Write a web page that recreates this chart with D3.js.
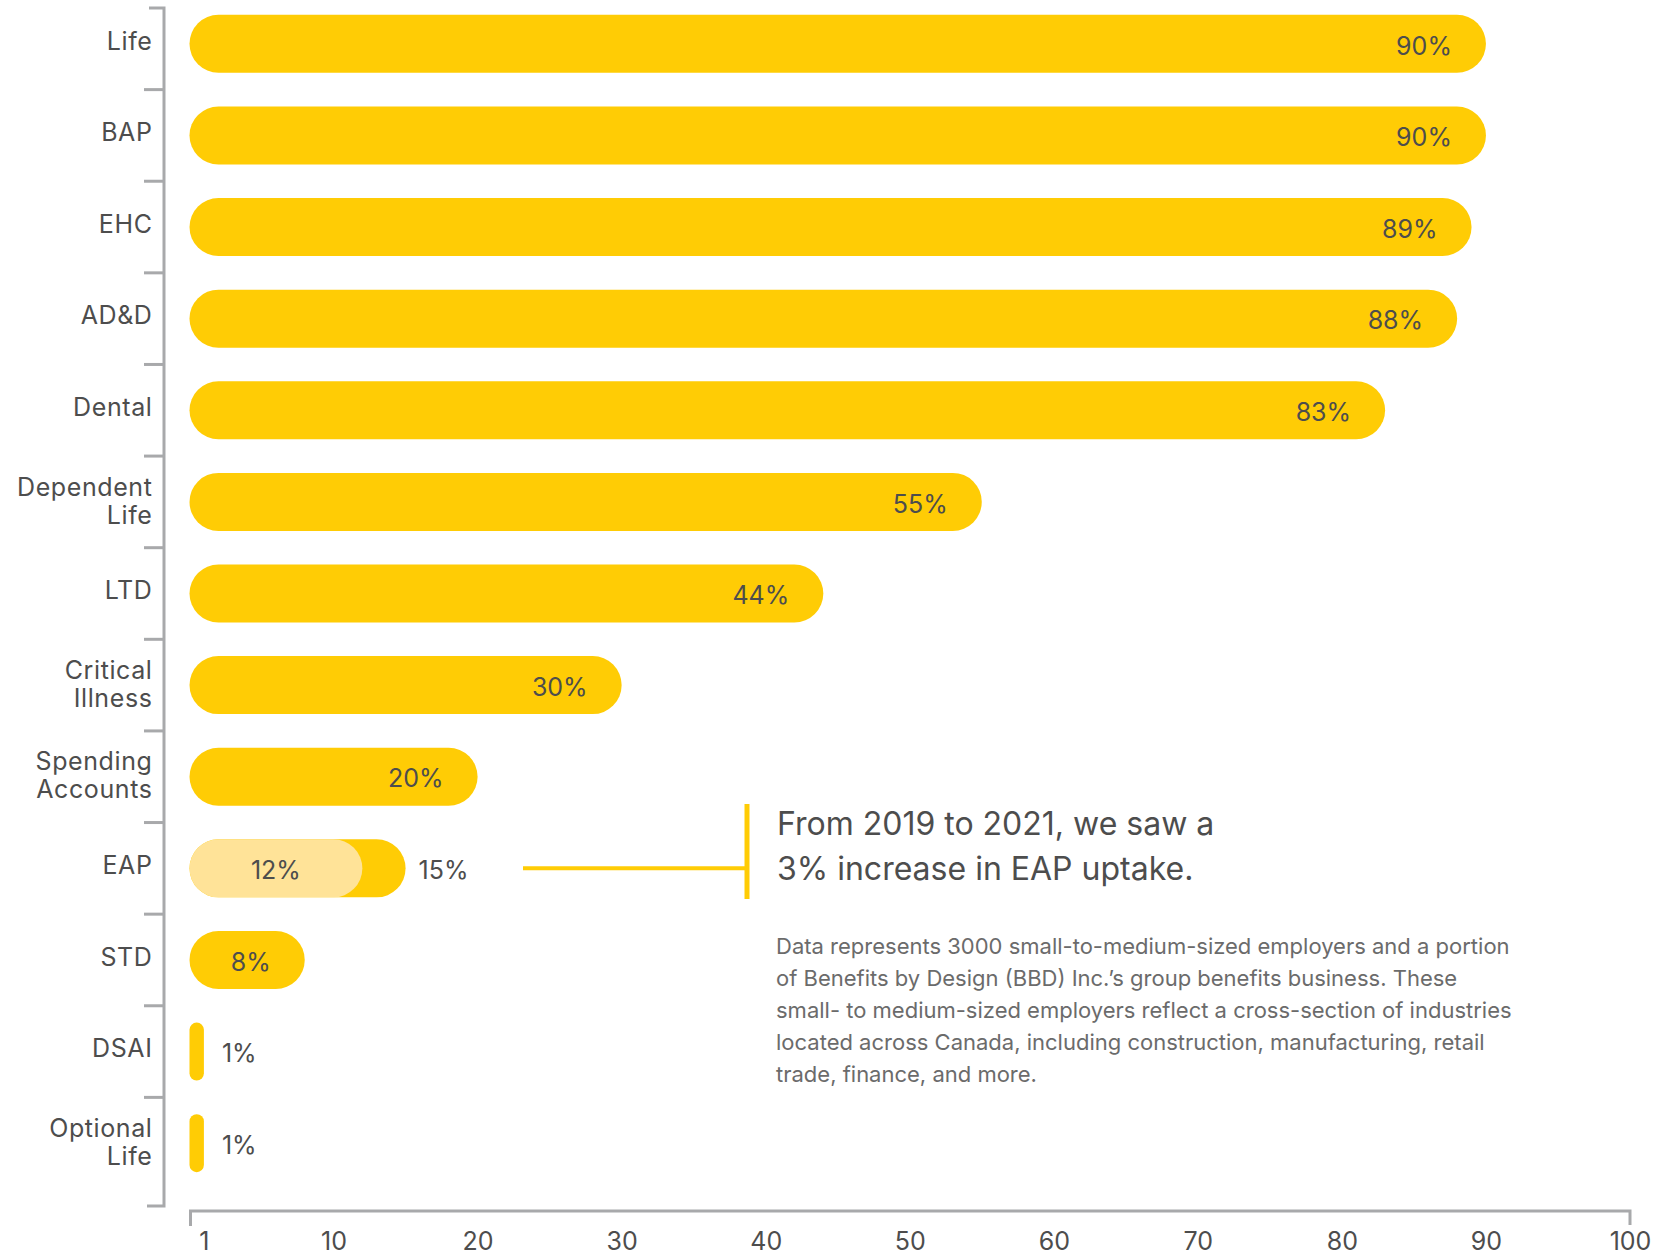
<!DOCTYPE html>
<html>
<head>
<meta charset="utf-8">
<script src="https://cdn.jsdelivr.net/npm/d3@7"></script>
<style>
  body { margin: 0; background: #fff; }
  svg { display: block; font-family: Inter, 'Noto Sans', sans-serif; }
  .cat { fill: #4d4d4d; font-size: 25px; letter-spacing: 0.6px; }
  .val { fill: #4d4d4d; font-size: 25px; }
  .tick text { fill: #4d4d4d; font-size: 25px; }
  .note { fill: #4d4d4d; font-size: 32px; }
  .foot { fill: #6b6b6b; font-size: 22px; }
</style>
</head>
<body>
<div id="chart"></div>
<script>
// benefit categories, top to bottom
const categories = ['Life', 'BAP', 'EHC', 'AD&D', 'Dental', 'Dependent Life', 'LTD',
  'Critical Illness', 'Spending Accounts', 'EAP', 'STD', 'DSAI', 'Optional Life'];
// uptake in 2021 (%)
const values = [90, 90, 89, 88, 83, 55, 44, 30, 20, 15, 8, 1, 1];
// uptake in 2019 (%), only known for EAP
const prevValues = [null, null, null, null, null, null, null, null, null, 12, null, null, null];
const tickValues = [1, 10, 20, 30, 40, 50, 60, 70, 80, 90, 100];

const noteLines = ['From 2019 to 2021, we saw a', '3% increase in EAP uptake.'];
const footLines = [
  'Data represents 3000 small-to-medium-sized employers and a portion',
  'of Benefits by Design (BBD) Inc.\u2019s group benefits business. These',
  'small- to medium-sized employers reflect a cross-section of industries',
  'located across Canada, including construction, manufacturing, retail',
  'trade, finance, and more.',
];

const width = 1660;
const height = 1256;
const yellow = '#ffcc05';
const lightYellow = '#ffe398';
const grey = '#a8a9ab';

const svg = d3
  .select('#chart')
  .append('svg')
  .attr('width', width)
  .attr('height', height);

const x = d3.scaleLinear().domain([0, 100]).range([189.5, 1630]);
const y = d3.scaleBand().domain(categories).range([-2, 1189]);
const barH = 58;
const cy = (d) => y(d) + y.bandwidth() / 2;

// pill shaped bar
function pill(g, v, cat, color) {
  const w = x(v) - x(0);
  g.append('rect')
    .attr('x', x(0))
    .attr('y', cy(cat) - barH / 2)
    .attr('width', w)
    .attr('height', barH)
    .attr('rx', Math.min(barH / 2, w / 2))
    .attr('fill', color);
}

const bars = svg.append('g');
categories.forEach((c, i) => {
  pill(bars, values[i], c, yellow);
  if (prevValues[i] != null) pill(bars, prevValues[i], c, lightYellow);
});

// value labels
categories.forEach((c, i) => {
  const v = values[i];
  const t = svg.append('text').attr('class', 'val').attr('y', cy(c) + 2).attr('dy', '0.35em');
  if (prevValues[i] != null) {
    t.attr('x', x(v) + 13).text(`${v}%`);
    svg.append('text')
      .attr('class', 'val')
      .attr('x', (x(0) + x(prevValues[i])) / 2)
      .attr('y', cy(c) + 2)
      .attr('dy', '0.35em')
      .attr('text-anchor', 'middle')
      .text(`${prevValues[i]}%`);
  } else if (v < 5) {
    t.attr('x', x(v) + 18).text(`${v}%`);
  } else {
    t.attr('x', x(v) - 34).attr('text-anchor', 'end').text(`${v}%`);
  }
});

// y axis: line with ticks between categories
const axisX = 164;
const ya = svg.append('g').attr('stroke', grey).attr('stroke-width', 3).attr('fill', 'none');
ya.append('path').attr('d', `M149,8H${axisX}V1206H147`);
categories.slice(1).forEach((c) => {
  ya.append('line').attr('x1', 144).attr('x2', axisX).attr('y1', y(c)).attr('y2', y(c));
});

// category labels, wrapped on spaces
categories.forEach((c) => {
  const words = c.split(' ');
  const t = svg.append('text').attr('class', 'cat').attr('text-anchor', 'end');
  if (words.length === 1) {
    t.append('tspan').attr('x', 152.5).attr('y', cy(c) - 3).attr('dy', '0.35em').text(c);
  } else {
    words.forEach((w, k) => {
      t.append('tspan')
        .attr('x', 152.5)
        .attr('y', cy(c) - 15 + k * 28)
        .attr('dy', '0.35em')
        .text(w);
    });
  }
});

// x axis
const axisY = 1211;
const xAxis = svg
  .append('g')
  .attr('transform', `translate(0,${axisY})`)
  .call(d3.axisBottom(x).tickValues(tickValues).tickSize(0).tickPadding(21).tickFormat(d3.format('d')));
xAxis.select('.domain').remove();
xAxis.attr('font-size', null).attr('font-family', null);
svg.append('path')
  .attr('d', `M${x(0) + 1},${axisY + 15}V${axisY}H${x(100)}V${axisY + 14}`)
  .attr('fill', 'none')
  .attr('stroke', grey)
  .attr('stroke-width', 3);

// annotation for EAP
const eapY = cy('EAP');
svg.append('line')
  .attr('x1', 523).attr('x2', 747)
  .attr('y1', eapY).attr('y2', eapY)
  .attr('stroke', yellow).attr('stroke-width', 4);
svg.append('line')
  .attr('x1', 747).attr('x2', 747)
  .attr('y1', 804).attr('y2', 899)
  .attr('stroke', yellow).attr('stroke-width', 5);

svg.append('g')
  .selectAll('text')
  .data(noteLines)
  .join('text')
  .attr('class', 'note')
  .attr('x', 777)
  .attr('y', (d, i) => 835 + i * 45)
  .text((d) => d);

svg.append('g')
  .selectAll('text')
  .data(footLines)
  .join('text')
  .attr('class', 'foot')
  .attr('x', 776)
  .attr('y', (d, i) => 954 + i * 32)
  .text((d) => d);
</script>
</body>
</html>
